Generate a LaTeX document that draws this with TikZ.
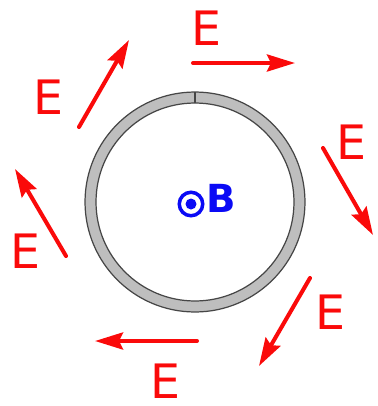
\documentclass[tikz,border=0pt]{standalone}
\usepackage{fontspec}
\setmainfont{DejaVu Sans}
\usepackage{tikz}
\usetikzlibrary{arrows.meta}
\definecolor{fieldred}{RGB}{250,10,10}
\definecolor{fieldblue}{RGB}{10,10,245}
\definecolor{ringgray}{RGB}{190,190,190}
\definecolor{ringedge}{RGB}{70,70,70}

\begin{document}
\begin{tikzpicture}[
    x=0.02cm, y=-0.02cm,
    elabel/.style={text=fieldred, inner sep=0pt, font=\fontsize{27}{27}\selectfont},
    blabel/.style={text=fieldblue, inner sep=0pt, font=\bfseries\fontsize{22}{22}\selectfont},
    odot/.style={circle, draw=fieldblue, line width=2pt, minimum size=0.47cm, inner sep=0pt},
    earr/.style={-{Stealth[length=0.56cm, width=0.34cm, inset=0.08cm]}, draw=fieldred, line width=2.3pt, line cap=round}
]
\useasboundingbox (0,0) rectangle (378,406);
\coordinate (c) at (195,202);
\draw[ringedge, fill=ringgray, even odd rule, line width=0.7pt] (c) circle[radius=2.2cm] (c) circle[radius=1.98cm];
\draw[ringedge, line width=0.7pt] (c) ++(90:1.98cm) -- ++(90:0.22cm);
\node[odot] (dot) at (191,204) {};
\fill[fieldblue] (dot.center) circle[radius=0.11cm];
\node[blabel] (B) at (221,198) {B};
\coordinate (t1) at (193,63);  \coordinate (h1) at (295,63);
\coordinate (t2) at (79,127);  \coordinate (h2) at (129,40);
\coordinate (t3) at (66,256);  \coordinate (h3) at (15,169);
\coordinate (t4) at (197,341); \coordinate (h4) at (95,341);
\coordinate (t5) at (310,278); \coordinate (h5) at (259,366);
\coordinate (t6) at (323,148); \coordinate (h6) at (373,235);
\node[elabel] (e1) at (206,28) {E};
\node[elabel] (e2) at (48,97) {E};
\node[elabel] (e3) at (25,251) {E};
\node[elabel] (e4) at (165,381) {E};
\node[elabel] (e5) at (330,312) {E};
\node[elabel] (e6) at (351,142) {E};
\foreach \i in {1,...,6}
  \draw[earr] (t\i) -- (h\i);
\end{tikzpicture}
\end{document}
